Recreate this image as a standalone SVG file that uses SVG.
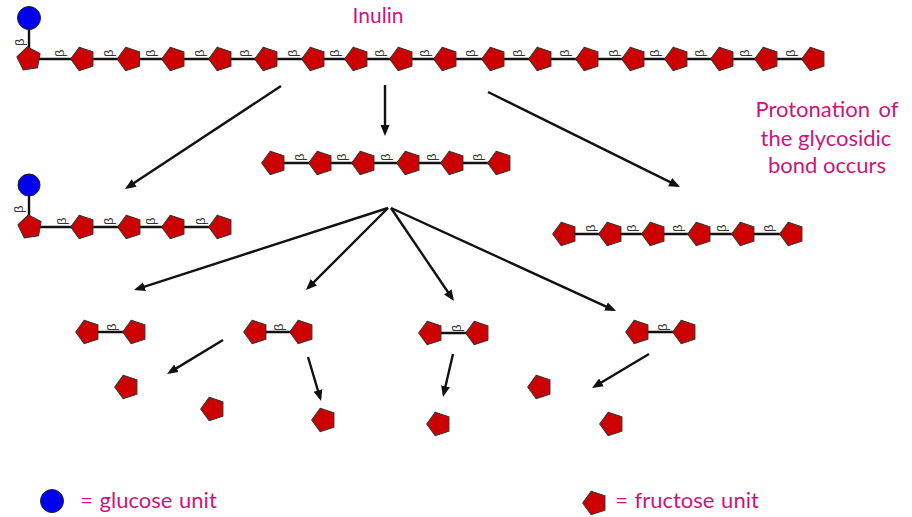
<svg xmlns="http://www.w3.org/2000/svg" xmlns:xlink="http://www.w3.org/1999/xlink" width="912" height="517" viewBox="0 0 912 517">
<style>
.bond{stroke:#111;stroke-width:2.4;fill:none}
.arrow{stroke:#111;stroke-width:2.4;fill:none;marker-end:url(#ah)}
.fr{fill:#cc0000;stroke:#333;stroke-width:1}
.gl{fill:#0000ee;stroke:#222;stroke-width:1}
.b{font-family:"Liberation Sans",Arial,sans-serif;font-size:13px;fill:#333}
.t{font-family:Lato,"Open Sans",sans-serif;font-size:22px;fill:#cc1480;text-anchor:middle}
</style>
<defs>
<marker id="ah" markerUnits="userSpaceOnUse" markerWidth="13" markerHeight="11" refX="8" refY="5.5" orient="auto"><path d="M0 1L11 5.5L0 10Z" fill="#111"/></marker>
<polygon id="p" points="0,-12.3 11.7,-3.8 7.23,9.95 -7.23,9.95 -11.7,-3.8" transform="rotate(-18)"/>
</defs>
<rect width="912" height="517" fill="#fff"/>
<g id="connectors">
<path class="bond" d="M29 18V59H814"/>
<path class="bond" d="M29 185V227H221"/>
<path class="bond" d="M274 163H500"/>
<path class="bond" d="M565 234H792"/>
<path class="bond" d="M88 332H135M256 332H302M431 333H478M638 332H685"/>
<path class="arrow" d="M281 86L127.500 187.300"/>
<path class="arrow" d="M385 85V133"/>
<path class="arrow" d="M488 92L677.300 185.700"/>
<path class="arrow" d="M388 208L136.900 289.100"/>
<path class="arrow" d="M388 208L308.100 287.900"/>
<path class="arrow" d="M391 208L452.300 298.500"/>
<path class="arrow" d="M391 208L613.300 309.800"/>
<path class="arrow" d="M223 340L169.600 372.400"/>
<path class="arrow" d="M308 357L320.200 398.100"/>
<path class="arrow" d="M453 354L443.700 394.100"/>
<path class="arrow" d="M649 354L594.600 386.500"/>
<g id="bond-labels">
<text class="b" transform="translate(24,46) rotate(-90)">β</text>
<text class="b" transform="translate(64,57) rotate(-90)">β</text>
<text class="b" transform="translate(113,57) rotate(-90)">β</text>
<text class="b" transform="translate(155,57) rotate(-90)">β</text>
<text class="b" transform="translate(204,57) rotate(-90)">β</text>
<text class="b" transform="translate(249,57) rotate(-90)">β</text>
<text class="b" transform="translate(297,57) rotate(-90)">β</text>
<text class="b" transform="translate(339,57) rotate(-90)">β</text>
<text class="b" transform="translate(384,57) rotate(-90)">β</text>
<text class="b" transform="translate(429,57) rotate(-90)">β</text>
<text class="b" transform="translate(475,57) rotate(-90)">β</text>
<text class="b" transform="translate(522,57) rotate(-90)">β</text>
<text class="b" transform="translate(569,57) rotate(-90)">β</text>
<text class="b" transform="translate(618,57) rotate(-90)">β</text>
<text class="b" transform="translate(659,57) rotate(-90)">β</text>
<text class="b" transform="translate(704,57) rotate(-90)">β</text>
<text class="b" transform="translate(749,57) rotate(-90)">β</text>
<text class="b" transform="translate(795,57) rotate(-90)">β</text>
<text class="b" transform="translate(23,213) rotate(-90)">β</text>
<text class="b" transform="translate(66,225) rotate(-90)">β</text>
<text class="b" transform="translate(113,225) rotate(-90)">β</text>
<text class="b" transform="translate(155,225) rotate(-90)">β</text>
<text class="b" transform="translate(205,225) rotate(-90)">β</text>
<text class="b" transform="translate(304,161) rotate(-90)">β</text>
<text class="b" transform="translate(346,161) rotate(-90)">β</text>
<text class="b" transform="translate(390,161) rotate(-90)">β</text>
<text class="b" transform="translate(436,161) rotate(-90)">β</text>
<text class="b" transform="translate(482,161) rotate(-90)">β</text>
<text class="b" transform="translate(595,232) rotate(-90)">β</text>
<text class="b" transform="translate(636,232) rotate(-90)">β</text>
<text class="b" transform="translate(682,232) rotate(-90)">β</text>
<text class="b" transform="translate(726,232) rotate(-90)">β</text>
<text class="b" transform="translate(773,232) rotate(-90)">β</text>
<text class="b" transform="translate(116,331) rotate(-90)">β</text>
<text class="b" transform="translate(283,331) rotate(-90)">β</text>
<text class="b" transform="translate(461,332) rotate(-90)">β</text>
<text class="b" transform="translate(667,331) rotate(-90)">β</text>
</g>
</g>
<g id="glucose-1"><circle class="gl" cx="29" cy="18" r="11.500"/></g>
<g id="fructose-a1"><polygon class="fr" points="0,-12.3 11.7,-3.8 7.23,9.95 -7.23,9.95 -11.7,-3.8" transform="translate(29,59) rotate(-8)"/></g>
<g id="fructose-a2" class="fr"><use xlink:href="#p" x="83" y="59"/></g>
<g id="fructose-a3" class="fr"><use xlink:href="#p" x="129.500" y="59"/></g>
<g id="fructose-a4" class="fr"><use xlink:href="#p" x="174" y="59"/></g>
<g id="fructose-a5" class="fr"><use xlink:href="#p" x="221" y="59"/></g>
<g id="fructose-a6" class="fr"><use xlink:href="#p" x="267" y="59"/></g>
<g id="fructose-a7" class="fr"><use xlink:href="#p" x="314" y="59"/></g>
<g id="fructose-a8" class="fr"><use xlink:href="#p" x="357" y="59"/></g>
<g id="fructose-a9" class="fr"><use xlink:href="#p" x="402" y="59"/></g>
<g id="fructose-a10" class="fr"><use xlink:href="#p" x="446" y="59"/></g>
<g id="fructose-a11" class="fr"><use xlink:href="#p" x="494" y="59"/></g>
<g id="fructose-a12" class="fr"><use xlink:href="#p" x="541" y="59"/></g>
<g id="fructose-a13" class="fr"><use xlink:href="#p" x="588" y="59"/></g>
<g id="fructose-a14" class="fr"><use xlink:href="#p" x="634" y="59"/></g>
<g id="fructose-a15" class="fr"><use xlink:href="#p" x="677" y="59"/></g>
<g id="fructose-a16" class="fr"><use xlink:href="#p" x="723" y="59"/></g>
<g id="fructose-a17" class="fr"><use xlink:href="#p" x="767" y="59"/></g>
<g id="fructose-a18" class="fr"><use xlink:href="#p" x="814" y="59"/></g>
<g id="glucose-2"><circle class="gl" cx="29" cy="185" r="11"/></g>
<g id="fructose-b1"><polygon class="fr" points="0,-12.3 11.7,-3.8 7.23,9.95 -7.23,9.95 -11.7,-3.8" transform="translate(30,227) rotate(-8)"/></g>
<g id="fructose-b2" class="fr"><use xlink:href="#p" x="83" y="227"/></g>
<g id="fructose-b3" class="fr"><use xlink:href="#p" x="130" y="227"/></g>
<g id="fructose-b4" class="fr"><use xlink:href="#p" x="174" y="227"/></g>
<g id="fructose-b5" class="fr"><use xlink:href="#p" x="221" y="227"/></g>
<g id="fructose-c1" class="fr"><use xlink:href="#p" x="274" y="163"/></g>
<g id="fructose-c2" class="fr"><use xlink:href="#p" x="321" y="163"/></g>
<g id="fructose-c3" class="fr"><use xlink:href="#p" x="364" y="163"/></g>
<g id="fructose-c4" class="fr"><use xlink:href="#p" x="409" y="163"/></g>
<g id="fructose-c5" class="fr"><use xlink:href="#p" x="453" y="163"/></g>
<g id="fructose-c6" class="fr"><use xlink:href="#p" x="500" y="163"/></g>
<g id="fructose-d1" class="fr"><use xlink:href="#p" x="565" y="234"/></g>
<g id="fructose-d2" class="fr"><use xlink:href="#p" x="611" y="234"/></g>
<g id="fructose-d3" class="fr"><use xlink:href="#p" x="654" y="234"/></g>
<g id="fructose-d4" class="fr"><use xlink:href="#p" x="700" y="234"/></g>
<g id="fructose-d5" class="fr"><use xlink:href="#p" x="744" y="234"/></g>
<g id="fructose-d6" class="fr"><use xlink:href="#p" x="792" y="234"/></g>
<g id="fructose-e1" class="fr"><use xlink:href="#p" x="88" y="332"/></g>
<g id="fructose-e2" class="fr"><use xlink:href="#p" x="135" y="332"/></g>
<g id="fructose-f1" class="fr"><use xlink:href="#p" x="256" y="332"/></g>
<g id="fructose-f2" class="fr"><use xlink:href="#p" x="302" y="332"/></g>
<g id="fructose-g1" class="fr"><use xlink:href="#p" x="431" y="333"/></g>
<g id="fructose-g2" class="fr"><use xlink:href="#p" x="478" y="333"/></g>
<g id="fructose-h1" class="fr"><use xlink:href="#p" x="638" y="332"/></g>
<g id="fructose-h2" class="fr"><use xlink:href="#p" x="685" y="332"/></g>
<g id="fructose-m1" class="fr"><use xlink:href="#p" x="127" y="387"/></g>
<g id="fructose-m2" class="fr"><use xlink:href="#p" x="213" y="409"/></g>
<g id="fructose-m3" class="fr"><use xlink:href="#p" x="324" y="420"/></g>
<g id="fructose-m4" class="fr"><use xlink:href="#p" x="439" y="424"/></g>
<g id="fructose-m5" class="fr"><use xlink:href="#p" x="540" y="387"/></g>
<g id="fructose-m6" class="fr"><use xlink:href="#p" x="612" y="424"/></g>
<g id="legend-glucose"><circle class="gl" cx="52" cy="501" r="11.500"/><text class="t" x="148.500" y="508" word-spacing="1">= glucose unit</text></g>
<g id="legend-fructose"><g class="fr"><use xlink:href="#p" x="595" y="503"/></g><text class="t" x="687" y="508" word-spacing="1">= fructose unit</text></g>
<g id="title"><text class="t" x="378" y="23" style="font-size:21px">Inulin</text></g>
<g id="note"><text class="t" x="827" y="117" word-spacing="3">Protonation of</text><text class="t" x="826" y="146">the glycosidic</text><text class="t" x="827" y="173">bond occurs</text></g>
</svg>
